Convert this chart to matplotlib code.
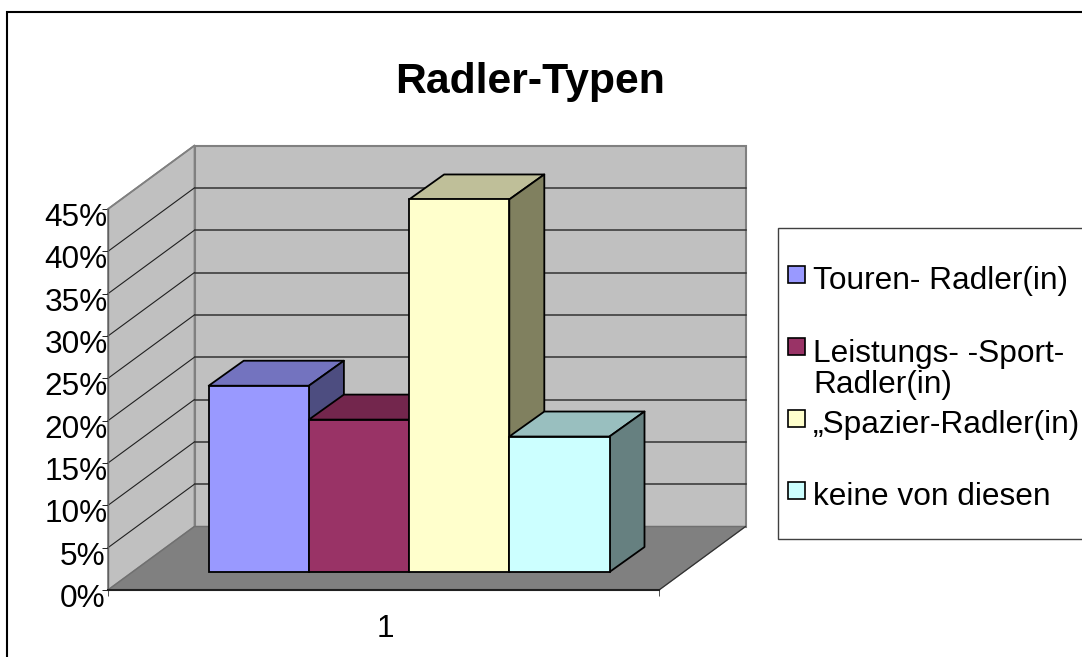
import matplotlib
matplotlib.use("Agg")
import matplotlib.pyplot as plt
from matplotlib.patches import Polygon, Rectangle
from matplotlib.transforms import ScaledTranslation

# DATOS
titulo = "Radler-Typen"
categorias = ["Touren- Radler(in)", "Leistungs- -Sport-\nRadler(in)", "„Spazier-Radler(in)", "keine von diesen"]
valores = [22, 18, 44, 16]
ticks_y = [0, 5, 10, 15, 20, 25, 30, 35, 40, 45]
etiqueta_x = "1"

# COLORES
frente = ["#9999FF", "#993366", "#FFFFCC", "#CCFFFF"]
arriba = ["#7373BF", "#73264D", "#BFBF99", "#99BFBF"]
lado = ["#4D4D80", "#4D1A33", "#80805F", "#668080"]

plt.rcParams["font.family"] = ["Liberation Sans", "DejaVu Sans"]

W, H = 1082, 657
fig = plt.figure(figsize=(W / 100, H / 100), dpi=100)

# capa de fondo en pixeles: marco y leyenda
capa = fig.add_axes([0, 0, 1, 1])
capa.set_xlim(0, W)
capa.set_ylim(H, 0)
capa.axis("off")
capa.add_patch(Rectangle((7, 12), W, H, fc="white", ec="black", lw=1.5))
capa.add_patch(Rectangle((778, 228), W, 311, fc="white", ec="#404040", lw=1))

base = 289
paso = 72
alto_linea = 32
for i, nombre in enumerate(categorias):
    y = base + i * paso
    capa.add_patch(Rectangle((788, y - 23), 16.5, 16.5, fc=frente[i], ec="black", lw=1.2))
    n = nombre.count("\n")
    capa.text(813, y + n * alto_linea, nombre, fontsize=22.8, va="baseline", ha="left",
              linespacing=1.03, color="black")

# EJES
ax = fig.add_axes([108 / W, (H - 590) / H, 551 / W, 381 / H])
ax.set_xlim(0, 1)
ax.set_ylim(0, 45)
ax.patch.set_visible(False)

# profundidad del grafico en unidades de datos
px_x = 1 / 551
px_y = 45 / 381
fondo_x = 86.5 * px_x
fondo_y = 63.5 * px_y
tope = ticks_y[-1]

# paredes y piso
ax.add_patch(Polygon([(0, 0), (fondo_x, fondo_y), (fondo_x, tope + fondo_y), (0, tope)],
                     fc="#C0C0C0", ec="#808080", lw=1.2, clip_on=False, zorder=1))
ax.add_patch(Polygon([(fondo_x, fondo_y), (1 + fondo_x, fondo_y), (1 + fondo_x, tope + fondo_y),
                      (fondo_x, tope + fondo_y)],
                     fc="#C0C0C0", ec="#808080", lw=1.5, clip_on=False, zorder=1))
ax.add_patch(Polygon([(0, 0), (1, 0), (1 + fondo_x, fondo_y), (fondo_x, fondo_y)],
                     fc="#808080", ec="#707070", lw=1, clip_on=False, zorder=1))
ax.plot([1, 1 + fondo_x], [0, fondo_y], color="#303030", lw=0.8, clip_on=False, zorder=1.5)

# lineas de la grilla
for v in ticks_y[1:-1]:
    ax.plot([0, fondo_x], [v, v + fondo_y], color="#202020", lw=0.8, clip_on=False, zorder=1.5)
    ax.plot([fondo_x, 1 + fondo_x], [v + fondo_y, v + fondo_y], color="#333333", lw=1.1,
            clip_on=False, zorder=1.5)
ax.plot([0, fondo_x], [tope, tope + fondo_y], color="#808080", lw=1.2, clip_on=False, zorder=1.6)

# BARRAS
ancho = 100.2 * px_x
inicio = 76.2 * px_x
sep_x = 24.5 * px_x
sep_y = 18 * px_y
prof_x = 35 * px_x
prof_y = 25 * px_y

for i, v in enumerate(valores):
    x0 = inicio + i * ancho + sep_x
    x1 = x0 + ancho
    y0 = sep_y
    y1 = sep_y + v
    z = 3 + i
    ax.add_patch(Polygon([(x0, y1), (x1, y1), (x1 + prof_x, y1 + prof_y), (x0 + prof_x, y1 + prof_y)],
                         fc=arriba[i], ec="black", lw=1.3, joinstyle="round", clip_on=False, zorder=z))
    ax.add_patch(Polygon([(x1, y0), (x1 + prof_x, y0 + prof_y), (x1 + prof_x, y1 + prof_y), (x1, y1)],
                         fc=lado[i], ec="black", lw=1.3, joinstyle="round", clip_on=False, zorder=z))
    ax.add_patch(Rectangle((x0, y0), ancho, v, fc=frente[i], ec="black", lw=1.3,
                           clip_on=False, zorder=z))

# ESPINAS Y TICKS
ax.spines["top"].set_visible(False)
ax.spines["right"].set_visible(False)
ax.spines["left"].set_color("#606060")
ax.spines["left"].set_linewidth(1)
ax.spines["bottom"].set_color("#202020")
ax.spines["bottom"].set_linewidth(1.5)

ax.set_yticks(ticks_y)
ax.set_yticklabels([f"{v}%" for v in ticks_y], fontsize=22.7)
ax.tick_params(axis="y", length=4.5, width=0.7, pad=-4.2, color="#202020")
baja = ScaledTranslation(0, -5.5 / 100, fig.dpi_scale_trans)
izq = ScaledTranslation(-2.5 / 100, -5.5 / 100, fig.dpi_scale_trans)
for v, lab in zip(ticks_y, ax.get_yticklabels()):
    # las de un digito quedan un poco mas a la izquierda
    lab.set_transform(lab.get_transform() + (izq if v < 10 else baja))

ax.set_xticks([0, 1])
ax.set_xticklabels(["", ""])
ax.set_xticks([0.503], [etiqueta_x], minor=True, fontsize=22.7)
ax.tick_params(axis="x", which="major", length=4.5, width=0.7, color="#505050")
ax.tick_params(axis="x", which="minor", length=0, pad=17.5)

fig.text(530 / W, 1 - 93.5 / H, titulo, fontsize=30.8, fontweight="bold", ha="center", va="baseline")

fig.savefig("out.png", dpi=100)
